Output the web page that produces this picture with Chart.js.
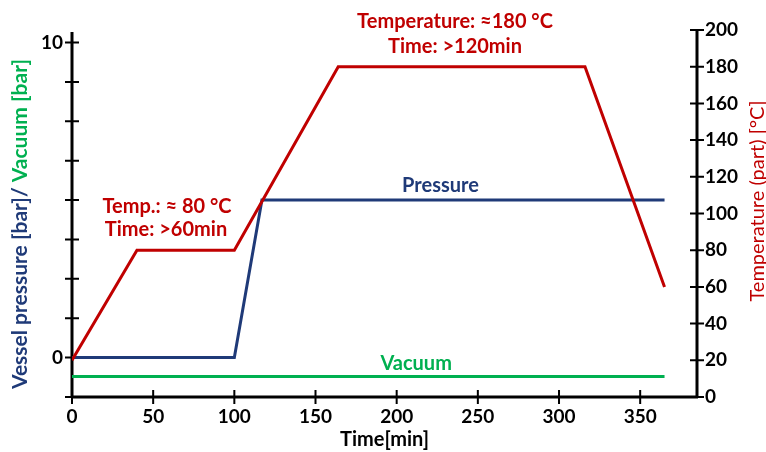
<!DOCTYPE html>
<html>
<head>
<meta charset="utf-8">
<script src="https://cdn.jsdelivr.net/npm/chart.js@4.4.0/dist/chart.umd.min.js"></script>
<style>
  html, body { margin: 0; padding: 0; background: #fff; }
  #wrap { width: 766px; height: 452px; }
</style>
</head>
<body>
<div id="wrap"><canvas id="c" width="766" height="452"></canvas></div>
<script>
// cycle profile
const tempTime = [0, 40, 100, 164, 316, 365];
const tempValue = [20, 80, 80, 180, 180, 60];
const pressureTime = [0, 100, 117, 365];
const pressureValue = [0, 0, 5, 5];
const vacuumTime = [0, 365];
const vacuumValue = [-0.6, -0.6];
const timeTicks = [0, 50, 100, 150, 200, 250, 300, 350];
const tempTicks = [0, 20, 40, 60, 80, 100, 120, 140, 160, 180, 200];
const pressureTicks = [-1.25, 0, 1.25, 2.5, 3.75, 5, 6.25, 7.5, 8.75, 10];
const pressureLabels = [0, 10];

const RED = '#c00000';
const BLUE = '#1f3a78';
const GREEN = '#00b050';
const FONT = 'Lato, "Open Sans", sans-serif';

const pts = (xs, ys) => xs.map((x, i) => ({ x: x, y: ys[i] }));

// axis lines with ticks crossing both sides
const axesPlugin = {
  id: 'axes',
  beforeDatasetsDraw(chart) {
    const ctx = chart.ctx;
    const { left, right, top, bottom } = chart.chartArea;
    const x = chart.scales.x, yl = chart.scales.yl, yr = chart.scales.yr;
    const t = 7;
    ctx.save();
    ctx.strokeStyle = '#000';
    ctx.lineWidth = 3;
    ctx.lineCap = 'butt';
    ctx.beginPath();
    ctx.moveTo(left - 1, bottom); ctx.lineTo(right + 1, bottom);
    ctx.moveTo(left, top + 2); ctx.lineTo(left, bottom);
    ctx.moveTo(right, top); ctx.lineTo(right, bottom);
    ctx.stroke();
    ctx.lineWidth = 2;
    ctx.beginPath();
    timeTicks.forEach(v => {
      const px = x.getPixelForValue(v);
      ctx.moveTo(px, bottom - t); ctx.lineTo(px, bottom + t);
    });
    pressureTicks.forEach(v => {
      const py = yl.getPixelForValue(v);
      ctx.moveTo(left - t, py); ctx.lineTo(left + t, py);
    });
    tempTicks.forEach(v => {
      const py = yr.getPixelForValue(v);
      ctx.moveTo(right - t, py); ctx.lineTo(right + t, py);
    });
    ctx.stroke();
    ctx.restore();
  },
  afterDraw(chart) {
    const ctx = chart.ctx;
    const x = chart.scales.x, yl = chart.scales.yl;
    ctx.save();
    ctx.textAlign = 'center';
    ctx.textBaseline = 'middle';
    ctx.font = 'bold 20px ' + FONT;
    ctx.fillStyle = RED;
    ctx.fillText('Temp.: \u2248 80 \u00b0C', 167, 207);
    ctx.fillText('Time: >60min', 166, 230);
    ctx.fillText('Temperature: \u2248180 \u00b0C', 455, 22);
    ctx.fillText('Time: >120min', 455, 47);
    ctx.fillStyle = BLUE;
    ctx.fillText('Pressure', x.getPixelForValue(227), yl.getPixelForValue(5.45));
    ctx.fillStyle = GREEN;
    ctx.fillText('Vacuum', x.getPixelForValue(212), yl.getPixelForValue(-0.2));

    // left title in two colours
    ctx.font = 'bold 21px ' + FONT;
    const a = 'Vessel pressure [bar]/ ';
    const b = 'Vacuum [bar]';
    const wa = ctx.measureText(a).width, wb = ctx.measureText(b).width;
    ctx.translate(20, 224);
    ctx.rotate(-Math.PI / 2);
    ctx.textAlign = 'left';
    ctx.fillStyle = BLUE;
    ctx.fillText(a, -(wa + wb) / 2, 0);
    ctx.fillStyle = GREEN;
    ctx.fillText(b, -(wa + wb) / 2 + wa, 0);
    ctx.restore();

    ctx.save();
    ctx.font = '20px ' + FONT;
    ctx.fillStyle = RED;
    ctx.textAlign = 'center';
    ctx.textBaseline = 'middle';
    ctx.translate(758, 201);
    ctx.rotate(-Math.PI / 2);
    ctx.fillText('Temperature (part) [\u00b0C]', 0, 0);
    ctx.restore();
  }
};

new Chart(document.getElementById('c'), {
  type: 'line',
  data: {
    datasets: [
      { label: 'Temperature', data: pts(tempTime, tempValue), yAxisID: 'yr', borderColor: RED, borderWidth: 3 },
      { label: 'Pressure', data: pts(pressureTime, pressureValue), yAxisID: 'yl', borderColor: BLUE, borderWidth: 3 },
      { label: 'Vacuum', data: pts(vacuumTime, vacuumValue), yAxisID: 'yl', borderColor: GREEN, borderWidth: 3 }
    ]
  },
  options: {
    responsive: false,
    animation: false,
    layout: { padding: { top: 30, left: 0, right: 0, bottom: 0 } },
    elements: { point: { radius: 0 }, line: { tension: 0 } },
    plugins: { legend: { display: false }, tooltip: { enabled: false } },
    scales: {
      x: {
        type: 'linear', min: 0, max: 385,
        grid: { display: false }, border: { display: false },
        afterBuildTicks: s => { s.ticks = timeTicks.map(v => ({ value: v })); },
        afterFit: s => { s.height = 55; },
        ticks: { color: '#000', padding: 0, font: { family: FONT, size: 19, weight: 'bold' } },
        title: { display: true, text: 'Time[min]', color: '#000', padding: 0, font: { family: FONT, size: 20, weight: 'bold' } }
      },
      yl: {
        type: 'linear', position: 'left', min: -1.25, max: 10.4,
        grid: { display: false }, border: { display: false },
        afterBuildTicks: s => { s.ticks = pressureTicks.map(v => ({ value: v })); },
        afterFit: s => { s.width = 72; },
        ticks: {
          color: '#000', padding: 1, font: { family: FONT, size: 19, weight: 'bold' },
          callback: v => pressureLabels.includes(v) ? String(v) : ''
        }
      },
      yr: {
        type: 'linear', position: 'right', min: 0, max: 200,
        grid: { display: false }, border: { display: false },
        afterBuildTicks: s => { s.ticks = tempTicks.map(v => ({ value: v })); },
        afterFit: s => { s.width = 69; },
        ticks: { color: '#000', padding: 0, font: { family: FONT, size: 19, weight: 'bold' } }
      }
    }
  },
  plugins: [axesPlugin]
});
</script>
</body>
</html>
